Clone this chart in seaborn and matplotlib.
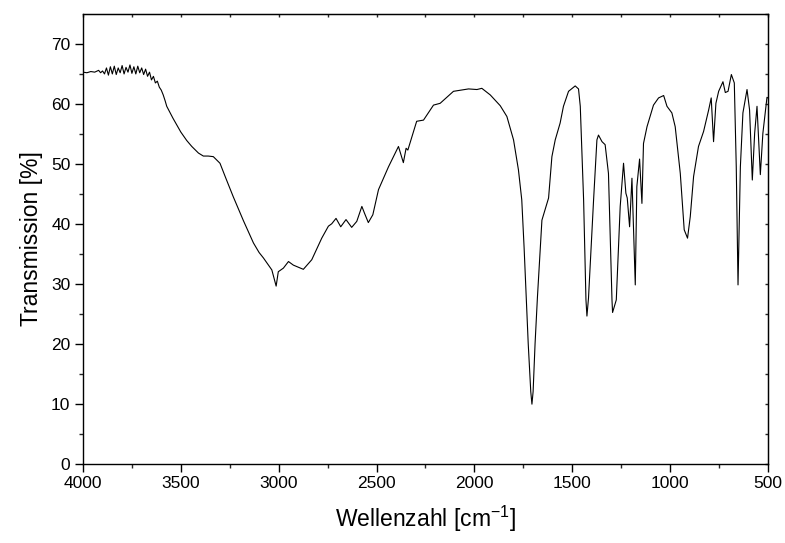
import numpy as np
import pandas as pd
import seaborn as sns
import matplotlib.pyplot as plt

# IR spectrum (wavenumber in cm-1, transmission in %)
wavenumber = [
    4000, 3980, 3960, 3940, 3920, 3910, 3900, 3890, 3880, 3870, 3860, 3850,
    3840, 3830, 3820, 3810, 3800, 3790, 3780, 3770, 3760, 3750, 3740, 3730,
    3720, 3710, 3700, 3690, 3680, 3670, 3660, 3650, 3640, 3630, 3620, 3610,
    3600, 3590, 3580, 3572, 3540, 3500, 3470, 3444, 3410, 3385, 3360, 3334,
    3300, 3270, 3232, 3180, 3129, 3100, 3078,
    3035, 3013, 3002, 2976, 2950, 2925, 2874, 2831, 2780, 2746, 2729, 2707,
    2683, 2656, 2627, 2601, 2575, 2562, 2542, 2519, 2490, 2439, 2388, 2363,
    2349, 2340, 2295, 2260, 2209, 2175, 2107, 2030, 1987, 1962, 1919, 1868,
    1834, 1800, 1775, 1758, 1746, 1725, 1712, 1706, 1700, 1690, 1678, 1655,
    1630, 1621, 1604, 1587, 1562, 1545, 1519, 1485, 1468, 1459, 1442, 1430,
    1425, 1417, 1391, 1374, 1366, 1348, 1332, 1315, 1297, 1294, 1275, 1255,
    1238, 1226, 1219, 1207, 1195, 1178, 1170, 1156, 1144, 1136, 1118, 1085,
    1059, 1033, 1016, 991, 974, 948, 928, 911, 897, 880, 855, 829, 803, 790,
    778, 766, 752, 730, 718, 704, 687, 672, 662, 653, 641, 628, 607, 594, 580,
    568, 556, 539, 526, 505, 500,
]
transmission = [
    65.3, 65.2, 65.4, 65.3, 65.6, 65.2, 65.5, 65.0, 66.0, 64.8, 66.2, 65.0,
    66.3, 64.9, 66.0, 65.2, 66.4, 65.0, 66.1, 65.3, 66.5, 65.1, 66.2, 65.0,
    66.3, 65.2, 66.0, 64.9, 65.8, 64.6, 65.3, 64.0, 64.6, 63.5, 63.8, 62.8,
    62.3, 61.5, 60.5, 59.6, 57.6, 55.3, 53.9, 52.9, 51.8, 51.3, 51.3, 51.2,
    50.1, 47.6, 44.5, 40.5, 36.8, 35.2, 34.3,
    32.3, 29.6, 32.0, 32.6, 33.7, 33.1, 32.4, 34.0, 37.6, 39.6, 40.0, 40.9,
    39.5, 40.7, 39.4, 40.4, 42.9, 41.8, 40.2, 41.5, 45.7, 49.5, 52.9, 50.2,
    52.6, 52.3, 57.1, 57.3, 59.8, 60.1, 62.1, 62.5, 62.4, 62.6, 61.5, 59.7,
    57.9, 54.0, 49.0, 44.0, 36.0, 20.0, 12.0, 9.9, 12.0, 20.0, 27.7, 40.6,
    43.3, 44.3, 51.2, 54.0, 56.8, 59.6, 62.1, 63.0, 62.5, 59.6, 44.0, 27.3,
    24.6, 27.6, 44.0, 54.0, 54.8, 53.7, 53.2, 48.4, 27.3, 25.2, 27.3, 42.9,
    50.1, 45.1, 44.3, 39.5, 47.6, 29.8, 46.2, 50.8, 43.4, 53.4, 56.2, 59.8,
    61.0, 61.4, 59.6, 58.5, 56.2, 48.4, 39.0, 37.6, 41.2, 47.9, 52.9, 55.4,
    59.0, 61.0, 53.7, 60.1, 62.1, 63.7, 61.9, 62.1, 64.9, 63.5, 49.5, 29.8,
    49.5, 58.5, 62.4, 59.0, 47.3, 55.1, 59.6, 48.2, 55.1, 61.1, 61.0,
]

x_ticks = [4000, 3500, 3000, 2500, 2000, 1500, 1000, 500]
y_ticks = [0, 10, 20, 30, 40, 50, 60, 70]

df = pd.DataFrame({"Wellenzahl": wavenumber, "Transmission": transmission})

sns.set_style("ticks")
plt.rcParams['font.family'] = ['Liberation Sans', 'DejaVu Sans']
plt.rcParams['mathtext.fontset'] = 'custom'
plt.rcParams['mathtext.rm'] = 'Liberation Sans'
plt.rcParams['text.color'] = 'black'
plt.rcParams['axes.labelcolor'] = 'black'

fig = plt.figure(figsize=(7.85, 5.43), dpi=100)
ax = fig.add_axes([0.1057, 0.1464, 0.8726, 0.8278])

sns.lineplot(data=df, x="Wellenzahl", y="Transmission", color="black",
             linewidth=0.8, sort=False, estimator=None, ax=ax)

ax.set_xlim(4000, 500)
ax.set_ylim(0, 75)
ax.set_xticks(x_ticks)
ax.set_yticks(y_ticks)
ax.set_xticks(np.arange(3750, 500, -500), minor=True)
ax.set_yticks(np.arange(5, 75, 10), minor=True)
ax.tick_params(axis="both", which="major", direction="out", length=6,
               width=1, labelsize=12.5, colors="black", pad=3)
ax.tick_params(axis="both", which="minor", direction="out", length=3, width=1)

for sp in ax.spines.values():
    sp.set_visible(True)
    sp.set_color("black")
    sp.set_linewidth(1.0)

# inward ticks on top and right
top = ax.secondary_xaxis("top")
top.set_xticks(np.arange(4000, 499, -250))
top.tick_params(direction="in", length=2.2, width=1, labeltop=False)
right = ax.secondary_yaxis("right")
right.set_yticks(np.arange(0, 76, 5))
right.tick_params(direction="in", length=2.2, width=1, labelright=False)

ax.set_xlabel("Wellenzahl [cm$^{\\mathregular{-1}}$]", fontsize=16.5,
              labelpad=9, color="black")
ax.set_ylabel("Transmission [%]", fontsize=16.5, labelpad=6, color="black")

plt.savefig("out.png", dpi=100)
plt.close()
